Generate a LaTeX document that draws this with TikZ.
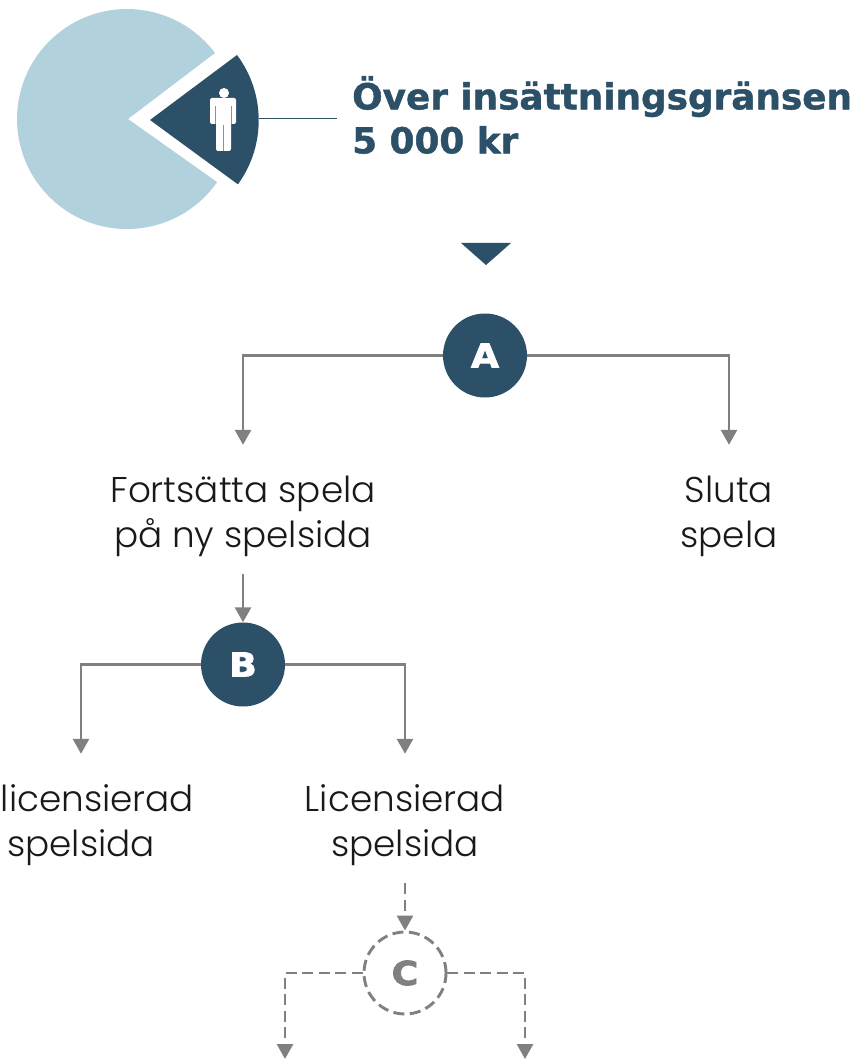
\documentclass[tikz,border=0pt]{standalone}
\usepackage{fontspec}
\setmainfont{Poppins Light}
\newfontfamily\headfont[FakeBold=1.2]{DejaVu Sans Bold}
\newfontfamily\letterfont[FakeBold=2.5,FakeStretch=1.1]{DejaVu Sans Bold}
\usetikzlibrary{arrows.meta}
\definecolor{spelblue}{HTML}{2B5068}
\definecolor{spellight}{HTML}{B1D1DC}
\definecolor{spelgrey}{HTML}{808080}
\newcommand{\toprule}{\rule{0pt}{40pt}}
\tikzset{
  letternode/.style={circle,fill=spelblue,text=white,minimum size=84pt,inner sep=0pt,font=\letterfont\fontsize{33}{33}\selectfont},
  textnode/.style={minimum height=129pt,inner sep=0pt,align=center,text=black!90,font=\fontsize{35.8}{45}\selectfont},
  link/.style={draw=spelgrey,line width=2.9pt,-{Triangle[length=15pt,width=16pt]}},
  dashlink/.style={link,dash pattern=on 11pt off 5.5pt}
}
\begin{document}
\begin{tikzpicture}[x=1pt,y=-1pt]
\useasboundingbox (0,0) rectangle (855,1059);
% Pie with the cut out piece
\fill[spellight] (128,119) -- (215,53) arc[start angle=36.9,end angle=325,radius=110pt] -- cycle;
\fill[spelblue] (150,120) -- (237,55) arc[start angle=36.8,end angle=-36.0,radius=109pt] -- cycle;

% Person in the piece
\fill[white] (224,93) circle (5pt);
\fill[white,rounded corners=2pt] (210,98) rectangle (236,124);
\fill[white,rounded corners=2pt] (216,110) rectangle (231,151);
\fill[spelblue!60!white] (215,106) rectangle (216,124);
\fill[spelblue!60!white] (231,106) rectangle (232,124);
\fill[spelblue!60!white] (223,125) rectangle (224,151);

% Title
\coordinate (piece) at (259,119);
\node[anchor=west,inner sep=0pt,align=left,text=spelblue,font=\headfont\fontsize{35.8}{44}\selectfont] (title) at (352,115) {Över insättningsgränsen\\5 000 kr};
\draw[spelblue,line width=1pt] (piece) -- (337,119);
\fill[spelblue] (461,243) -- (511,243) -- (486,265) -- cycle;

% Steps
\node[letternode] (stepa) at (485,355.5) {A};
\node[textnode] (fortsatta) at (243,509.5) {\toprule Fortsätta spela\\på ny spelsida};
\node[textnode] (sluta) at (729,509.5) {\toprule Sluta\\spela};
\node[letternode] (stepb) at (243,664.5) {B};
\node[textnode] (olic) at (81,818.5) {\toprule\hspace*{33pt}licensierad\\spelsida};
\node[textnode] (lic) at (405,818.5) {\toprule Licensierad\\spelsida};
\node[letternode,fill=none,draw=spelgrey,line width=2.9pt,dash pattern=on 11pt off 5.5pt,text=spelgrey,minimum size=82pt] (stepc) at (405,973) {C};
\coordinate (endl) at (285,1059);
\coordinate (endr) at (525,1059);

% Connectors
\draw[link] (stepa) -| (fortsatta.north);
\draw[link] (stepa) -| (sluta.north);
\draw[link] (fortsatta) -- (stepb);
\draw[link] (stepb) -| (olic.north);
\draw[link] (stepb) -| (lic.north);
\draw[dashlink] (lic) -- (stepc);
\draw[dashlink] (stepc) -| (endl);
\draw[dashlink] (stepc) -| (endr);
\end{tikzpicture}
\end{document}
